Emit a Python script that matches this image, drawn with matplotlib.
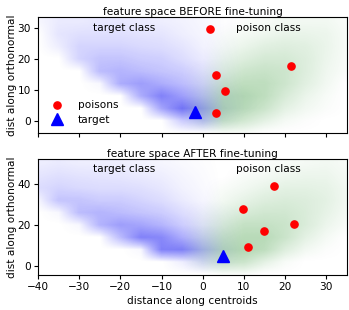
import numpy as np
import matplotlib
matplotlib.use("Agg")
import matplotlib.pyplot as plt
from matplotlib.colors import LinearSegmentedColormap

# ---------------- data ----------------
grid_x = [-40, -35, -30, -25, -20, -15, -10, -5, 0, 5, 10, 15, 20, 25, 30, 35]
grid_y_before = [-4, 0, 4, 8, 12, 16, 20, 24, 28, 32]
grid_y_after = [-4, 2, 8, 14, 20, 26, 32, 38, 44, 50]

# density of target-class cloud, BEFORE (rows follow grid_y_before)
blue_before = [
    [0, 0, 0, 0, 0, 0, 0, 0, 0, 0, 0, 0, 0, 0, 0, 0],
    [0, 0, 0, 0, 0, 0, 0, .30, .35, .05, 0, 0, 0, 0, 0, 0],
    [0, 0, 0, 0, 0, 0, .55, .90, .50, .10, .02, 0, 0, 0, 0, 0],
    [0, 0, 0, 0, 0, .50, .80, .60, .35, .08, .02, 0, 0, 0, 0, 0],
    [0, 0, 0, .05, .50, .60, .50, .40, .25, .06, 0, 0, 0, 0, 0, 0],
    [0, 0, 0, .40, .45, .40, .35, .30, .18, .05, 0, 0, 0, 0, 0, 0],
    [0, 0, .25, .35, .35, .30, .28, .20, .12, .04, 0, 0, 0, 0, 0, 0],
    [0, .10, .25, .25, .25, .22, .20, .15, .08, .03, 0, 0, 0, 0, 0, 0],
    [0, .15, .18, .18, .18, .16, .15, .10, .06, .02, 0, 0, 0, 0, 0, 0],
    [.05, .12, .12, .14, .14, .12, .10, .08, .05, .02, 0, 0, 0, 0, 0, 0],
]
# density of poison-class cloud, BEFORE
green_before = [
    [0, 0, 0, 0, 0, 0, 0, 0, 0, .05, .05, 0, 0, 0, 0, 0],
    [0, 0, 0, 0, 0, 0, 0, 0, .20, .45, .35, .20, .08, .03, 0, 0],
    [0, 0, 0, 0, 0, 0, 0, .05, .35, .60, .55, .40, .20, .10, .04, 0],
    [0, 0, 0, 0, 0, 0, 0, 0, .20, .55, .60, .50, .30, .15, .06, 0],
    [0, 0, 0, 0, 0, 0, 0, 0, .10, .40, .50, .50, .38, .22, .10, 0],
    [0, 0, 0, 0, 0, 0, 0, 0, .05, .25, .38, .42, .38, .25, .12, .04],
    [0, 0, 0, 0, 0, 0, 0, 0, 0, .15, .25, .32, .32, .25, .14, .05],
    [0, 0, 0, 0, 0, 0, 0, 0, 0, .08, .15, .22, .25, .22, .15, .06],
    [0, 0, 0, 0, 0, 0, 0, 0, 0, .04, .08, .12, .16, .16, .14, .06],
    [0, 0, 0, 0, 0, 0, 0, 0, 0, 0, .04, .06, .10, .10, .10, .05],
]
# density of target-class cloud, AFTER (rows follow grid_y_after)
blue_after = [
    [0, 0, 0, 0, 0, 0, 0, 0, 0, 0, 0, 0, 0, 0, 0, 0],
    [0, 0, 0, 0, 0, 0, 0, .10, .20, .05, 0, 0, 0, 0, 0, 0],
    [0, 0, 0, 0, 0, .05, .80, .80, .40, .10, 0, 0, 0, 0, 0, 0],
    [0, 0, 0, 0, .40, .80, .75, .50, .25, .06, 0, 0, 0, 0, 0, 0],
    [0, 0, .05, .45, .60, .55, .45, .30, .15, .04, 0, 0, 0, 0, 0, 0],
    [0, .05, .40, .45, .40, .35, .30, .20, .10, .03, 0, 0, 0, 0, 0, 0],
    [.05, .35, .35, .30, .30, .25, .20, .12, .06, 0, 0, 0, 0, 0, 0, 0],
    [.20, .25, .22, .20, .20, .18, .14, .08, .04, 0, 0, 0, 0, 0, 0, 0],
    [.15, .18, .16, .15, .14, .12, .10, .06, .03, 0, 0, 0, 0, 0, 0, 0],
    [.10, .12, .10, .10, .10, .08, .06, .04, .02, 0, 0, 0, 0, 0, 0, 0],
]
# density of poison-class cloud, AFTER
green_after = [
    [0, 0, 0, 0, 0, 0, 0, 0, 0, .05, .05, 0, 0, 0, 0, 0],
    [0, 0, 0, 0, 0, 0, 0, 0, .15, .40, .40, .20, .06, 0, 0, 0],
    [0, 0, 0, 0, 0, 0, 0, .05, .30, .55, .60, .50, .25, .10, .03, 0],
    [0, 0, 0, 0, 0, 0, 0, 0, .20, .45, .55, .55, .40, .20, .08, 0],
    [0, 0, 0, 0, 0, 0, 0, 0, .10, .30, .45, .45, .40, .28, .14, .05],
    [0, 0, 0, 0, 0, 0, 0, 0, .05, .18, .30, .35, .35, .28, .18, .08],
    [0, 0, 0, 0, 0, 0, 0, 0, 0, .10, .18, .25, .28, .26, .20, .10],
    [0, 0, 0, 0, 0, 0, 0, 0, 0, .05, .10, .16, .20, .20, .18, .10],
    [0, 0, 0, 0, 0, 0, 0, 0, 0, 0, .05, .08, .12, .14, .14, .08],
    [0, 0, 0, 0, 0, 0, 0, 0, 0, 0, 0, .04, .06, .08, .10, .06],
]

poisons_before_x = [1.8, 3.2, 5.4, 3.2, 21.5]
poisons_before_y = [29.5, 14.7, 9.6, 2.4, 17.8]
target_before = (-2.0, 2.8)

poisons_after_x = [17.2, 9.7, 22.2, 14.9, 11.0]
poisons_after_y = [38.7, 27.7, 20.3, 16.8, 9.2]
target_after = (4.8, 4.8)

titles = ["feature space BEFORE fine-tuning", "feature space AFTER fine-tuning"]
class_labels = ["target class", "poison class"]

# ---------------- plot ----------------
FS = 7.6
plt.rcParams['font.family'] = ['DejaVu Sans']
plt.rcParams['font.size'] = FS

fig = plt.figure(figsize=(3.49, 3.10), dpi=100)
ax1 = fig.add_axes([0.109, 0.571, 0.885, 0.374])
ax2 = fig.add_axes([0.109, 0.113, 0.885, 0.374])

blue_cmap = LinearSegmentedColormap.from_list("b", [(0, 0, 1, 0), (0.15, 0.15, 0.95, 0.7)])
green_cmap = LinearSegmentedColormap.from_list("g", [(0, 0.5, 0, 0), (0.15, 0.55, 0.15, 0.55)])


def draw_cloud(ax, gy, dens, cmap):
    gx = np.array(grid_x, float)
    gy = np.array(gy, float)
    dx = gx[1] - gx[0]
    dy = gy[1] - gy[0]
    ax.imshow(np.array(dens), origin="lower", cmap=cmap, vmin=0, vmax=1,
              extent=(gx[0] - dx / 2, gx[-1] + dx / 2, gy[0] - dy / 2, gy[-1] + dy / 2),
              aspect="auto", interpolation="bilinear", zorder=1)


panels = [
    (ax1, grid_y_before, blue_before, green_before, poisons_before_x, poisons_before_y, target_before, (-4, 33.5), 30),
    (ax2, grid_y_after, blue_after, green_after, poisons_after_x, poisons_after_y, target_after, (-4.4, 52), 47),
]

for i, (ax, gy, b, g, px, py, tg, ylim, ty) in enumerate(panels):
    draw_cloud(ax, gy, g, green_cmap)
    draw_cloud(ax, gy, b, blue_cmap)
    ax.plot(px, py, 'o', color='red', markersize=5.2, linestyle='none', label='poisons', zorder=3)
    ax.plot([tg[0]], [tg[1]], '^', color='blue', markersize=8, linestyle='none', label='target', zorder=3)
    ax.set_xlim(-40, 35)
    ax.set_ylim(*ylim)
    ax.set_title(titles[i], fontsize=FS, pad=1.5)
    ax.set_ylabel("dist along orthonormal", fontsize=FS, labelpad=0.5)
    ax.text(-19, ty, class_labels[0], ha='center', va='center', fontsize=FS)
    ax.text(16, ty, class_labels[1], ha='center', va='center', fontsize=FS)
    ax.tick_params(labelsize=FS, length=3, pad=2)
    ax.set_xticks([-40, -30, -20, -10, 0, 10, 20, 30])

ax1.set_yticks([0, 10, 20, 30])
ax1.tick_params(labelbottom=False)
ax2.set_yticks([0, 20, 40])
ax2.set_xlabel("distance along centroids", fontsize=FS, labelpad=3)
ax1.legend(loc='lower left', frameon=False, fontsize=FS, handletextpad=1.0,
           borderaxespad=0.3, labelspacing=0.4, borderpad=0.5)

fig.savefig("out.png", dpi=100)
